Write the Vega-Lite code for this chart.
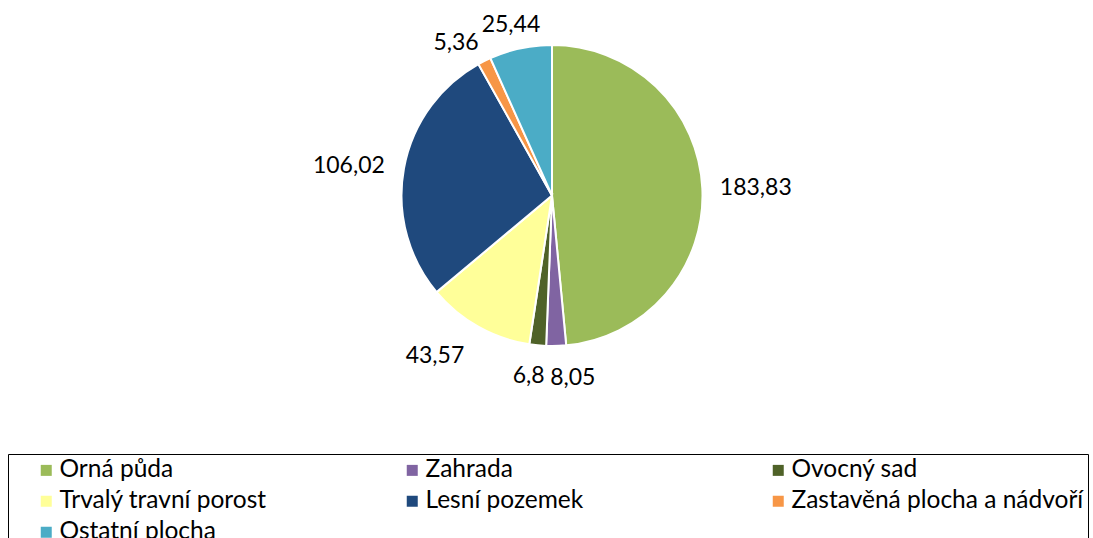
{
  "$schema": "https://vega.github.io/schema/vega-lite/v6.json",
  "width": 1082,
  "height": 391,
  "autosize": "none",
  "padding": {"left": 11, "top": 0, "right": 0, "bottom": 147},
  "background": "white",
  "config": {
    "view": {"stroke": null},
    "text": {"font": "Lato", "fontSize": 23, "color": "black"}
  },
  "data": {
    "values": [
      {"k": 1, "cat": "Orná půda", "v": 183.83, "lab": "183,83"},
      {"k": 2, "cat": "Zahrada", "v": 8.05, "lab": "8,05"},
      {"k": 3, "cat": "Ovocný sad", "v": 6.8, "lab": "6,8"},
      {"k": 4, "cat": "Trvalý travní porost", "v": 43.57, "lab": "43,57"},
      {"k": 5, "cat": "Lesní pozemek", "v": 106.02, "lab": "106,02"},
      {"k": 6, "cat": "Zastavěná plocha a nádvoří", "v": 5.36, "lab": "5,36"},
      {"k": 7, "cat": "Ostatní plocha", "v": 25.44, "lab": "25,44"}
    ]
  },
  "encoding": {
    "theta": {"field": "v", "type": "quantitative", "stack": true},
    "order": {"field": "k", "type": "quantitative"}
  },
  "layer": [
    {
      "mark": {"type": "arc", "outerRadius": 150.5, "stroke": "white", "strokeWidth": 2},
      "encoding": {
        "color": {
          "field": "cat",
          "type": "nominal",
          "scale": {
            "domain": ["Orná půda", "Zahrada", "Ovocný sad", "Trvalý travní porost", "Lesní pozemek", "Zastavěná plocha a nádvoří", "Ostatní plocha"],
            "range": ["#9BBB59", "#8064A2", "#4F6228", "#FFFF99", "#1F497D", "#F79646", "#4BACC6"]
          },
          "legend": {
            "orient": "none",
            "legendX": -3,
            "legendY": 454,
            "direction": "horizontal",
            "columns": 3,
            "gridAlign": "all",
            "title": null,
            "padding": 4,
            "strokeColor": "black",
            "symbolType": "square",
            "symbolSize": 121,
            "symbolStrokeWidth": 0,
            "symbolOffset": 22,
            "labelOffset": 1,
            "labelFont": "Lato",
            "labelFontSize": 24.5,
            "labelColor": "black",
            "labelLimit": 400,
            "rowPadding": 6,
            "columnPadding": 26,
            "encode": {"legend": {"update": {"strokeWidth": {"value": 1.5}}}}
          }
        }
      }
    },
    {
      "mark": {"type": "text", "radius": 168, "align": "left", "baseline": "middle"},
      "encoding": {"text": {"condition": {"test": "datum.k == 1", "field": "lab"}, "value": ""}}
    },
    {
      "mark": {"type": "text", "radius": 185, "align": "left", "baseline": "middle", "dx": -7, "dy": -2},
      "encoding": {"text": {"condition": {"test": "datum.k == 2", "field": "lab"}, "value": ""}}
    },
    {
      "mark": {"type": "text", "radius": 183, "align": "right", "baseline": "middle", "dx": 10, "dy": -2},
      "encoding": {"text": {"condition": {"test": "datum.k == 3", "field": "lab"}, "value": ""}}
    },
    {
      "mark": {"type": "text", "radius": 185, "align": "right", "baseline": "middle", "dx": 3, "dy": -1},
      "encoding": {"text": {"condition": {"test": "datum.k == 4", "field": "lab"}, "value": ""}}
    },
    {
      "mark": {"type": "text", "radius": 172, "align": "right", "baseline": "middle", "dx": 2, "dy": 2},
      "encoding": {"text": {"condition": {"test": "datum.k == 5", "field": "lab"}, "value": ""}}
    },
    {
      "mark": {"type": "text", "radius": 172, "align": "right", "baseline": "middle", "dx": 4, "dy": 1},
      "encoding": {"text": {"condition": {"test": "datum.k == 6", "field": "lab"}, "value": ""}}
    },
    {
      "mark": {"type": "text", "radius": 177, "align": "center", "baseline": "middle", "dx": -4, "dy": 3},
      "encoding": {"text": {"condition": {"test": "datum.k == 7", "field": "lab"}, "value": ""}}
    }
  ]
}
